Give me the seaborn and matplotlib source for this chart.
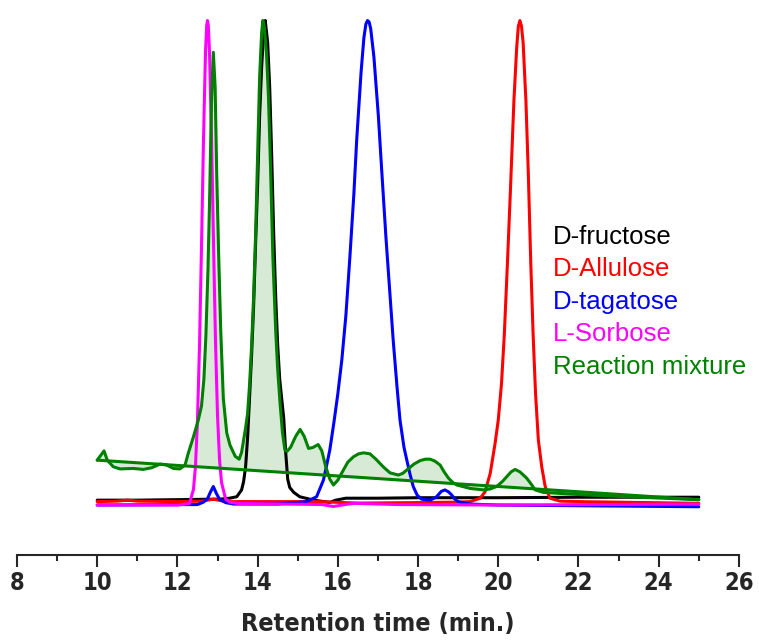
import numpy as np
import pandas as pd
import matplotlib
matplotlib.use("Agg")
import matplotlib.pyplot as plt
import seaborn as sns

# retention time (min) and detector signal (a.u.)
fructose_t = [10.0, 11.0, 12.0, 12.9, 13.06, 13.3, 13.48, 13.60, 13.65, 13.70, 13.75, 13.80, 13.85,
              13.90, 13.95, 14.00, 14.05, 14.10, 14.15, 14.19, 14.25, 14.30, 14.35, 14.40, 14.45,
              14.50, 14.55, 14.60, 14.65, 14.70, 14.75, 14.80, 14.90, 15.05, 15.40, 15.65, 15.80,
              15.95, 16.20, 17.0, 18.0, 20.0, 22.0, 25.0]
fructose_s = [1.2, 1.2, 1.3, 1.4, 1.4, 1.6, 1.9, 3.3, 5.0, 8.0, 14.0, 22.5, 31.0,
              41.0, 54.0, 66.0, 80.0, 90.0, 97.0, 99.5, 95.0, 86.0, 72.0, 56.0, 43.0,
              33.0, 26.0, 22.0, 18.0, 11.0, 5.5, 3.8, 2.8, 1.9, 1.2, 0.9, 0.75,
              1.2, 1.6, 1.6, 1.7, 1.7, 1.8, 1.8]

allulose_t = [10.0, 10.5, 10.75, 11.0, 12.0, 12.6, 12.9, 13.2, 14.0, 15.5, 16.5, 18.0, 19.0,
              19.30, 19.55, 19.67, 19.80, 19.92, 20.00, 20.08, 20.15, 20.23, 20.30, 20.39, 20.46,
              20.50, 20.54, 20.58, 20.62, 20.69, 20.75, 20.81, 20.87, 20.93, 21.00, 21.085, 21.17,
              21.29, 21.54, 22.2, 25.0]
allulose_s = [0.9, 1.0, 1.2, 1.0, 0.9, 1.0, 1.4, 0.9, 0.9, 0.9, 0.6, 0.7, 0.8,
              0.9, 1.6, 2.9, 6.7, 12.8, 17.6, 25, 35, 50, 64, 83, 94,
              98.3, 99.5, 98.3, 95, 83, 68, 50, 35, 23, 13.5, 8, 4,
              1.6, 1.0, 0.88, 0.55]

tagatose_t = [10.0, 12.5, 12.65, 12.75, 12.82, 12.895, 12.97, 13.05, 13.2, 13.4, 14.5, 15.22,
              15.47, 15.64, 15.70, 15.80, 15.90, 16.00, 16.10, 16.20, 16.30, 16.40, 16.47, 16.58,
              16.65, 16.70, 16.74, 16.78, 16.82, 16.90, 17.01, 17.10, 17.20, 17.26, 17.38, 17.48,
              17.55, 17.65, 17.72, 17.80, 17.88, 17.98, 18.09, 18.30, 18.45, 18.58, 18.67, 18.76,
              18.84, 18.92, 19.00, 19.30, 20.0, 25.0]
tagatose_s = [0.2, 0.3, 0.8, 1.5, 2.8, 4.0, 2.6, 1.4, 0.7, 0.4, 0.4, 0.9,
              1.9, 5.3, 7.5, 11.5, 17, 23, 30, 39, 51, 64, 75, 89,
              96, 98.8, 99.5, 99.2, 97.8, 92, 80, 68, 55, 48, 34, 24,
              17.6, 12, 9.4, 6.5, 4.0, 2.2, 1.4, 1.2, 1.8, 3.0, 3.3, 2.9,
              2.25, 1.4, 0.9, 0.4, 0.2, -0.15]

sorbose_t = [10.0, 12.0, 12.30, 12.40, 12.45, 12.50, 12.55, 12.60, 12.65, 12.70, 12.73, 12.75,
             12.77, 12.80, 12.85, 12.90, 12.95, 13.00, 13.05, 13.10, 13.20, 13.30, 13.48, 14.5,
             15.22, 15.60, 15.89, 16.10, 16.40, 17.5, 20.0, 25.0]
sorbose_s = [0.2, 0.2, 0.5, 3.4, 8.1, 17.5, 32.5, 53, 75, 93, 98.5, 99.5,
             98.5, 93, 75.5, 54, 33.5, 18.5, 9.5, 4.8, 1.5, 0.8, 0.55, 0.4,
             0.35, 0.3, -0.1, 0.2, 0.55, 0.3, 0.2, 0.4]

mixture_t = [10.00, 10.17, 10.25, 10.40, 10.57, 10.90, 11.15, 11.36, 11.57, 11.73, 11.90, 12.06,
             12.19, 12.27, 12.40, 12.52, 12.60, 12.66, 12.71, 12.76, 12.80, 12.85, 12.895, 12.94,
             12.98, 13.03, 13.08, 13.145, 13.23, 13.31, 13.44, 13.54, 13.60, 13.65, 13.70, 13.75,
             13.80, 13.85, 13.90, 13.95, 14.00, 14.05, 14.10, 14.13, 14.17, 14.22, 14.27, 14.32,
             14.38, 14.45, 14.50, 14.56, 14.62, 14.68, 14.73, 14.82, 14.95, 15.06, 15.16, 15.27,
             15.38, 15.51, 15.60, 15.70, 15.80, 15.89, 16.00, 16.14, 16.25, 16.39, 16.52, 16.64,
             16.80, 16.95, 17.13, 17.30, 17.51, 17.62, 17.72, 17.90, 18.05, 18.18, 18.30, 18.42,
             18.55, 18.65, 18.76, 18.87, 18.97, 19.30, 19.63, 19.80, 19.96, 20.10, 20.21, 20.32,
             20.42, 20.54, 20.62, 20.71, 20.82, 20.92, 21.12, 21.50, 22.21, 23.50, 25.00]
mixture_s = [9.4, 11.3, 9.4, 8.05, 7.6, 7.7, 7.5, 7.85, 8.6, 8.4, 7.7, 7.6,
             8.4, 10.8, 14.2, 17.6, 20.5, 26, 35, 48, 62, 83, 93, 86,
             68, 51, 36, 22, 15, 12.5, 10.2, 9.6, 11, 13.5, 16, 19,
             25, 33, 43, 56, 72, 88, 97, 99.5, 98, 93, 84, 70,
             51, 36, 28, 21, 15, 11.5, 11.2, 12.0, 14.3, 15.7, 14.3, 11.8,
             12.0, 12.6, 11.3, 8.0, 5.5, 4.3, 5.3, 7.4, 9.0, 10.1, 10.7, 10.9,
             10.7, 9.6, 8.05, 6.8, 6.35, 6.7, 7.4, 8.6, 9.3, 9.6, 9.6, 9.2,
             8.4, 7.0, 5.7, 4.8, 4.3, 3.6, 3.3, 3.5, 4.0, 5.0, 6.0, 7.0,
             7.5, 7.0, 6.4, 5.7, 4.5, 3.3, 2.8, 2.6, 2.25, 1.8, 1.3]

# straight integration baseline drawn under the reaction mixture
baseline_t = [10.0, 25.0]
baseline_s = [9.4, 1.3]

names = ["D-fructose", "D-Allulose", "D-tagatose", "L-Sorbose", "Reaction mixture"]
colors = ["black", "#ff0000", "#0000ff", "#ff00ff", "#008000"]
series = [(fructose_t, fructose_s), (allulose_t, allulose_s), (tagatose_t, tagatose_s),
          (sorbose_t, sorbose_s), (mixture_t, mixture_s)]

df = pd.concat([pd.DataFrame({"time": t, "signal": s, "sample": n})
                for (t, s), n in zip(series, names)], ignore_index=True)

sns.set_style("white")
fig = plt.figure(figsize=(7.59, 6.44), dpi=100)
ax = fig.add_axes([0.0224, 0.1382, 0.9511, 0.8602])

# shaded area between mixture trace and its baseline
ax.fill(np.r_[mixture_t, baseline_t[::-1]], np.r_[mixture_s, baseline_s[::-1]],
        color="#d6ead6", lw=0, zorder=1)

for n, c in zip(names, colors):
    sns.lineplot(data=df[df["sample"] == n], x="time", y="signal", color=c, lw=2.2,
                 estimator=None, ax=ax, zorder=3)
sns.lineplot(x=baseline_t, y=baseline_s, color="#008000", lw=2.2, estimator=None, ax=ax, zorder=3)

ax.set_xlim(8, 26)
ax.set_ylim(-10.04, 103.5)
ax.set_xticks(np.arange(8, 27, 2))
ax.set_xticks(np.arange(9, 26, 2), minor=True)
ax.set_yticks([])
for side in ["left", "right", "top"]:
    ax.spines[side].set_visible(False)
ax.spines["bottom"].set_linewidth(1.5)
ax.tick_params(axis="x", which="major", direction="out", length=8.5, width=1.5, pad=3, bottom=True)
ax.tick_params(axis="x", which="minor", direction="out", length=4, width=1.5, bottom=True)

narrow = ["DejaVu Sans"]
for lab in ax.get_xticklabels():
    lab.set_family(narrow)
    lab.set_fontstretch("condensed")
    lab.set_fontweight("bold")
    lab.set_fontsize(17)
ax.set_xlabel("Retention time (min.)", family=narrow, fontstretch="condensed",
              fontweight="bold", fontsize=18, labelpad=12)
ax.set_ylabel("")

# coloured text legend
ys = [237, 269, 302, 334, 367]
for n, c, y in zip(names, colors, ys):
    fig.text(553 / 759, 1 - y / 644, n, color=c, fontsize=18.5, va="center", ha="left",
             family=["Liberation Sans", "DejaVu Sans"])

fig.savefig("out.png", dpi=100)
